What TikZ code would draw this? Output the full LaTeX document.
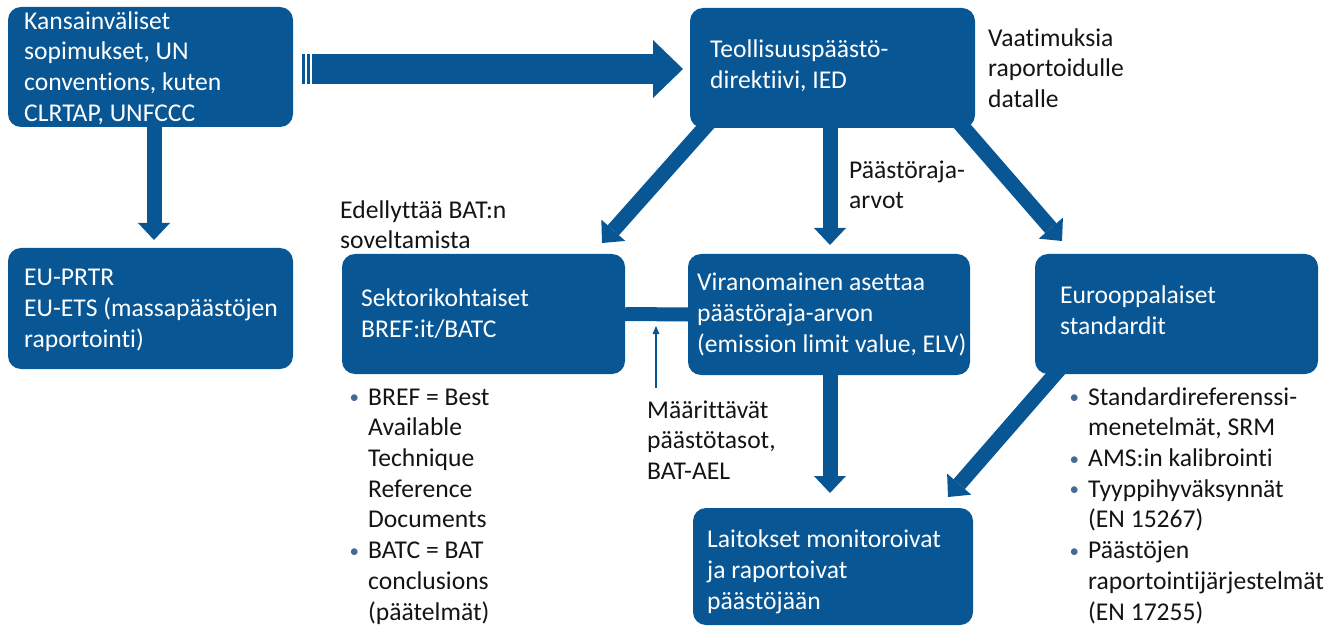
\documentclass[tikz,border=0pt]{standalone}
\usepackage{fontspec}
\setmainfont{Carlito}[Ligatures={NoCommon}]
\usetikzlibrary{arrows.meta,backgrounds,calc}
\definecolor{boxblue}{RGB}{8,86,148}
\definecolor{txtcol}{RGB}{20,20,20}
\definecolor{bulcol}{RGB}{70,105,150}
\newcommand{\mybul}{\makebox[18.5pt][l]{\raisebox{1.5pt}{\fontsize{19}{20}\selectfont\textcolor{bulcol}{•}}}}
\newcommand{\myind}{\hspace*{18.5pt}}
\begin{document}
\begin{tikzpicture}[x=1pt,y=-1pt,
  font=\fontsize{25.6}{30.7}\selectfont,
  bluebox/.style={fill=boxblue, rounded corners=13pt, inner sep=0pt, draw=none},
  boxtext/.style={text=white, anchor=west, align=left, inner sep=0pt},
  plaintext/.style={text=txtcol, anchor=north west, align=left, inner sep=0pt},
  fatarrow/.style={draw=boxblue, line width=15pt, -{Triangle[width=32pt,length=17pt,line width=0pt]}},
  stripearrow/.style={draw=boxblue, line width=30pt, -{Triangle[width=58pt,length=30pt,line width=0pt]}},
  thinarrow/.style={draw=boxblue, line width=1.5pt, -{Triangle[width=7pt,length=8pt,line width=0pt]}},
  barline/.style={draw=boxblue, line width=14pt}
]
\path[use as bounding box] (0,0) rectangle (1330,628);

% boxes
\node[bluebox, minimum width=285pt, minimum height=120pt] (A) at (150.5,67) {};
\node[bluebox, minimum width=285pt, minimum height=121pt] (E) at (150.5,308.5) {};
\node[bluebox, minimum width=285pt, minimum height=120pt] (B) at (832.5,68) {};
\node[bluebox, minimum width=283pt, minimum height=120pt] (S) at (483.5,314) {};
\node[bluebox, minimum width=282pt, minimum height=121pt] (C) at (829,314.5) {};
\node[bluebox, minimum width=283pt, minimum height=120pt] (U) at (1176.5,314) {};
\node[bluebox, minimum width=280pt, minimum height=117pt] (L) at (833,566.5) {};

% box texts
\node[boxtext] (At) at (24,68) {Kansainväliset\\sopimukset, UN\\conventions, kuten\\CLRTAP, UNFCCC};
\node[boxtext] (Et) at (24,310.5) {EU-PRTR\\EU-ETS (massapäästöjen\\raportointi)};
\node[boxtext] (Bt) at (710,65.5) {Teollisuuspäästö-\\direktiivi, IED};
\node[boxtext] (St) at (361,314) {Sektorikohtaiset\\BREF:it/BATC};
\node[boxtext] (Ct) at (697,314.5) {Viranomainen asettaa\\päästöraja-arvon\\(emission limit value, ELV)};
\node[boxtext] (Ut) at (1060,310) {Eurooppalaiset\\standardit};
\node[boxtext] (Lt) at (707,572) {Laitokset monitoroivat\\ja raportoivat\\päästöjään};

% free texts
\node[plaintext] (vaat) at (988,24.5) {\strut Vaatimuksia\\raportoidulle\\datalle};
\node[plaintext] (paas) at (849,156.5) {\strut Päästöraja-\\arvot};
\node[plaintext] (edel) at (340,196.5) {\strut Edellyttää BAT:n\\soveltamista};
\node[plaintext] (maar) at (647,396.5) {\strut Määrittävät\\päästötasot,\\BAT-AEL};
\node[plaintext] (bref) at (349.5,383.5) {\strut\mybul BREF = Best\\\myind Available\\\myind Technique\\\myind Reference\\\myind Documents\\\mybul BATC = BAT\\\myind conclusions\\\myind (päätelmät)};
\node[plaintext] (stdl) at (1069.5,383.5) {\strut\mybul Standardireferenssi-\\\myind menetelmät, SRM\\\mybul AMS:in kalibrointi\\\mybul Tyyppihyväksynnät\\\myind (EN 15267)\\\mybul Päästöjen\\\myind raportointijärjestelmät\\\myind (EN 17255)};

% connector end points
\coordinate (a1s) at (154,120);   \coordinate (a1e) at (154,240);
\coordinate (a2s) at (311.7,69);  \coordinate (a2e) at (683,69);
\coordinate (a3s) at (714,117);   \coordinate (a3e) at (602,243);
\coordinate (a4s) at (830,120);   \coordinate (a4e) at (830,245);
\coordinate (a5s) at (956.4,119.5); \coordinate (a5e) at (1062,241);
\coordinate (a6s) at (830,370);   \coordinate (a6e) at (830,493);
\coordinate (a7s) at (1062.6,365.5); \coordinate (a7e) at (948,497);
\coordinate (a8s) at (656,388);   \coordinate (a8e) at (656,326);

\begin{pgfonlayer}{background}
  \draw[fatarrow] (a1s) -- (a1e);
  \draw[stripearrow] (a2s) -- (a2e);
  \fill[boxblue] (302,54) rectangle (304.5,84);
  \fill[boxblue] (306.5,54) rectangle (309.7,84);
  \draw[fatarrow] (a3s) -- (a3e);
  \draw[fatarrow] (a4s) -- (a4e);
  \draw[fatarrow] (a5s) -- (a5e);
  \draw[fatarrow] (a6s) -- (a6e);
  \draw[fatarrow] (a7s) -- (a7e);
  \draw[barline] (S.east) -- (C.west);
\end{pgfonlayer}
\draw[thinarrow] (a8s) -- (a8e);
\end{tikzpicture}
\end{document}
